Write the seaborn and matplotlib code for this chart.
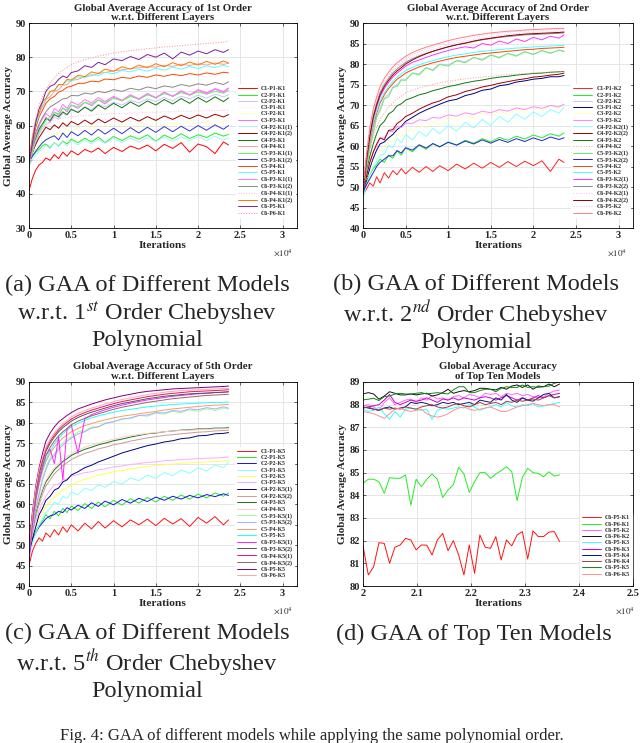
import numpy as np
import seaborn as sns
import matplotlib.pyplot as plt
from matplotlib.ticker import FuncFormatter, MultipleLocator

sns.set_theme(style="ticks")
plt.rcParams["font.family"] = ["Liberation Serif", "DejaVu Serif"]
plt.rcParams["mathtext.fontset"] = "stix"

# shared iteration grid for panels a-c
ITER = [0, 400, 800, 1200, 1600, 2000, 2500, 3000, 3500, 4000, 4500, 5000, 5800, 6600, 7400, 8200,
        9000, 10000, 11000, 12000, 13000, 14000, 15000, 16000, 17000, 18000, 19000, 20000, 21000,
        22000, 23000, 23600]

# (a) 1st order
A_LABELS = ["C1-P1-K1", "C2-P1-K1", "C2-P2-K1", "C3-P1-K1", "C3-P2-K1", "C3-P3-K1", "C4-P2-K1(1)",
            "C4-P2-K1(2)", "C4-P3-K1", "C4-P4-K1", "C5-P3-K1(1)", "C5-P3-K1(2)", "C5-P4-K1", "C5-P5-K1",
            "C6-P3-K1(1)", "C6-P3-K1(2)", "C6-P4-K1(1)", "C6-P4-K1(2)", "C6-P5-K1", "C6-P6-K1"]
A_ACC = [
    [41.0, 44.5, 47.0, 48.5, 49.2, 50.5, 49.8, 51.5, 50.3, 52.2, 51.0, 52.6, 51.4, 53.0, 52.2, 53.4,
     51.8, 53.6, 52.4, 54.0, 53.1, 54.3, 52.6, 54.5, 53.3, 55.0, 52.2, 54.6, 53.8, 51.8, 55.2, 54.3],
    [49.0, 51.0, 52.2, 53.0, 54.1, 54.6, 53.5, 55.0, 54.0, 55.5, 54.6, 56.0, 55.0, 56.3, 55.2, 56.6,
     55.0, 56.8, 55.6, 57.0, 56.0, 57.3, 55.4, 57.2, 56.1, 57.6, 56.2, 57.3, 56.5, 57.8, 56.9, 57.4],
    [48.0, 52.0, 55.0, 57.5, 59.0, 60.5, 61.0, 62.5, 61.8, 63.6, 63.0, 64.5, 64.0, 65.4, 64.6, 66.2,
     65.5, 66.8, 66.0, 67.4, 66.6, 67.8, 67.0, 68.2, 67.2, 68.6, 67.8, 68.9, 68.0, 69.2, 68.4, 69.0],
    [50.0, 53.0, 55.0, 56.5, 57.5, 58.2, 58.8, 59.3, 59.0, 59.8, 59.6, 60.2, 60.0, 60.6, 60.3, 60.9,
     60.6, 61.2, 60.9, 61.4, 61.0, 61.6, 61.2, 61.7, 61.4, 61.9, 61.5, 62.0, 61.7, 62.1, 61.8, 62.0],
    [49.0, 51.5, 53.0, 54.5, 55.8, 56.2, 57.5, 56.8, 58.3, 57.5, 59.0, 58.0, 59.5, 58.4, 59.8, 58.8,
     60.0, 59.0, 60.3, 59.4, 60.5, 59.6, 60.8, 59.8, 61.0, 60.0, 61.2, 60.2, 61.3, 60.4, 61.5, 61.0],
    [48.5, 53.0, 56.0, 58.5, 60.0, 62.5, 61.0, 64.0, 63.0, 65.2, 64.0, 66.0, 65.0, 66.8, 65.8, 67.5,
     66.3, 68.2, 67.2, 68.8, 67.6, 69.3, 68.0, 69.8, 68.5, 70.2, 69.0, 70.5, 69.6, 70.8, 70.0, 71.0],
    [48.0, 50.0, 51.5, 52.5, 53.0, 54.2, 53.2, 55.0, 53.8, 55.3, 54.0, 55.6, 54.3, 55.8, 54.6, 56.0,
     54.8, 56.2, 55.0, 56.3, 55.2, 56.4, 55.3, 56.6, 55.4, 56.7, 55.5, 56.8, 55.6, 56.9, 55.7, 56.4],
    [49.0, 52.0, 54.5, 56.5, 58.0, 59.5, 58.8, 60.2, 59.2, 60.8, 59.8, 61.2, 60.2, 61.6, 60.4, 61.9,
     60.8, 62.2, 61.0, 62.4, 61.3, 62.6, 61.5, 62.8, 61.8, 63.0, 62.0, 63.1, 62.2, 63.3, 62.5, 63.2],
    [49.0, 53.5, 56.5, 59.0, 60.5, 62.0, 61.5, 63.2, 62.5, 64.0, 63.2, 64.8, 63.8, 65.4, 64.2, 66.0,
     64.8, 66.5, 65.2, 66.9, 65.6, 67.2, 66.0, 67.6, 66.3, 67.9, 66.5, 68.2, 66.8, 68.4, 67.0, 68.1],
    [50.0, 56.0, 60.5, 63.5, 65.5, 67.5, 68.5, 70.0, 70.5, 71.8, 72.0, 73.2, 73.5, 74.3, 74.6, 75.3,
     75.5, 76.0, 76.3, 76.7, 76.9, 77.2, 77.1, 77.6, 77.3, 77.9, 77.6, 78.1, 77.7, 78.3, 77.9, 78.2],
    [48.0, 52.0, 55.5, 58.0, 60.0, 61.5, 62.5, 63.8, 63.5, 65.0, 64.5, 66.0, 65.5, 66.8, 66.2, 67.5,
     66.8, 68.0, 67.3, 68.5, 67.8, 68.9, 68.2, 69.3, 68.6, 69.6, 68.9, 69.8, 69.2, 70.0, 69.5, 70.2],
    [49.5, 51.0, 52.5, 53.8, 55.0, 55.8, 56.5, 57.0, 55.8, 57.8, 56.5, 58.2, 57.0, 58.6, 57.2, 58.9,
     57.5, 59.2, 57.6, 59.4, 57.8, 59.5, 58.0, 59.7, 58.2, 59.8, 58.4, 60.0, 58.6, 60.2, 58.9, 60.0],
    [49.0, 55.0, 59.5, 62.5, 64.5, 66.5, 67.8, 68.5, 69.8, 70.3, 71.2, 71.5, 72.3, 72.4, 73.0, 72.8,
     73.6, 73.4, 74.1, 73.8, 74.5, 74.1, 74.8, 74.4, 75.0, 74.6, 75.2, 74.8, 75.4, 75.0, 75.6, 75.4],
    [49.5, 56.0, 60.5, 63.0, 66.3, 67.7, 69.8, 70.2, 71.8, 71.9, 73.1, 73.0, 74.2, 73.9, 75.0, 74.6,
     75.6, 75.2, 76.1, 75.7, 76.5, 75.9, 76.8, 76.2, 77.1, 76.5, 77.3, 76.7, 77.5, 77.0, 77.6, 77.2],
    [48.0, 53.5, 57.0, 60.0, 62.0, 63.5, 62.5, 65.0, 64.0, 66.2, 65.0, 67.0, 66.0, 67.6, 66.6, 68.2,
     67.0, 68.6, 67.4, 69.0, 67.8, 69.4, 68.2, 69.7, 68.6, 70.0, 68.9, 70.3, 69.2, 70.6, 69.6, 70.8],
    [49.0, 54.0, 58.0, 60.5, 62.5, 64.0, 65.5, 66.2, 67.0, 67.8, 68.0, 68.8, 68.7, 69.5, 69.2, 70.0,
     69.6, 70.5, 70.0, 70.9, 70.4, 71.3, 70.8, 71.6, 71.2, 72.0, 71.5, 72.2, 71.8, 72.6, 72.0, 72.8],
    [48.5, 52.5, 55.5, 57.5, 59.0, 60.0, 60.8, 61.5, 61.8, 62.2, 62.3, 62.6, 62.7, 63.0, 63.0, 63.3,
     63.3, 63.5, 63.5, 63.7, 63.7, 63.9, 63.9, 64.0, 64.0, 64.2, 64.2, 64.3, 64.3, 64.5, 64.4, 64.6],
    [49.5, 56.5, 61.5, 63.6, 67.0, 68.0, 70.0, 70.3, 72.0, 72.0, 73.5, 73.3, 74.7, 74.3, 75.7, 75.2,
     76.5, 75.9, 77.2, 76.5, 77.7, 76.9, 78.1, 77.2, 78.4, 77.5, 78.6, 77.7, 78.8, 77.9, 78.9, 78.3],
    [49.0, 55.0, 61.0, 65.0, 67.0, 70.0, 71.5, 72.0, 73.5, 74.5, 74.0, 75.5, 76.0, 77.5, 77.0, 78.5,
     77.8, 79.5, 79.0, 80.2, 79.3, 80.8, 80.0, 81.2, 79.5, 81.5, 80.6, 81.8, 81.0, 82.2, 81.4, 82.2],
    [50.0, 57.0, 62.0, 66.0, 68.5, 70.5, 72.5, 74.0, 75.2, 76.2, 77.0, 77.8, 78.6, 79.3, 79.8, 80.3,
     80.7, 81.2, 81.6, 81.9, 82.2, 82.5, 82.7, 83.0, 83.2, 83.4, 83.6, 83.8, 84.0, 84.2, 84.4, 84.7],
]
A_COLORS = ["#ff0000", "#22ee22", "#c8c8ff", "#f2f2f2", "#ffff55", "#ff66ff", "#aaf0ff", "#990000",
            "#117711", "#ff9999", "#55ff55", "#3333dd", "#ff4400", "#55ffff", "#ff77ff", "#888888",
            "#ffbbdd", "#ff7700", "#7a1fa2", "#ff8c8c"]
A_STYLES = ["-", "-", "-", ":", ":", "-", "-", "-", "-", "-", "-", "-", "-", "-", "-", "-", ":", "-", "-", ":"]

# (b) 2nd order
B_LABELS = [s.replace("K1", "K2") for s in A_LABELS]
B_ACC = [
    [48.0, 49.5, 51.0, 50.2, 52.5, 51.0, 53.5, 52.2, 54.0, 53.0, 54.5, 53.2, 54.8, 53.6, 55.0, 53.8,
     55.2, 54.0, 55.6, 54.4, 55.8, 54.6, 56.0, 54.8, 56.2, 55.0, 56.3, 55.2, 56.4, 53.8, 56.8, 56.0],
    [48.5, 51.0, 53.0, 54.5, 55.5, 56.8, 56.0, 57.8, 57.0, 58.8, 57.8, 59.5, 58.6, 60.2, 59.2, 60.6,
     59.8, 61.0, 60.3, 61.4, 60.7, 61.8, 61.0, 62.1, 61.4, 62.4, 61.7, 62.7, 62.0, 63.0, 62.4, 63.2],
    [49.0, 55.0, 60.0, 63.6, 67.2, 69.2, 71.8, 72.6, 74.3, 75.0, 76.3, 76.3, 77.8, 77.7, 79.1, 78.7,
     80.0, 79.8, 80.9, 80.6, 81.6, 81.2, 82.2, 81.7, 82.6, 82.1, 83.0, 82.4, 83.3, 82.7, 83.4, 83.2],
    [48.0, 51.5, 54.5, 57.0, 59.0, 60.5, 61.0, 62.0, 62.8, 64.0, 64.8, 66.0, 67.0, 68.0, 68.8, 69.5,
     70.2, 71.0, 71.4, 72.3, 72.8, 73.6, 73.9, 74.7, 75.0, 75.6, 75.9, 76.3, 76.5, 76.9, 76.9, 77.2],
    [48.0, 51.8, 53.6, 56.5, 57.0, 59.3, 59.2, 61.4, 60.9, 62.9, 62.2, 64.1, 63.4, 65.2, 64.4, 66.1,
     65.3, 66.9, 66.1, 67.6, 66.7, 68.2, 67.3, 68.7, 67.7, 69.2, 68.2, 69.6, 68.5, 69.9, 68.8, 69.6],
    [48.5, 53.0, 56.0, 58.5, 60.0, 61.8, 62.0, 63.6, 63.5, 64.8, 64.5, 65.6, 65.5, 66.4, 66.2, 67.0,
     66.8, 67.6, 67.3, 68.1, 67.7, 68.5, 68.1, 68.9, 68.5, 69.3, 68.9, 69.6, 69.2, 69.9, 69.5, 70.2],
    [47.0, 50.5, 53.0, 55.0, 56.5, 57.8, 58.0, 60.2, 59.5, 61.8, 60.8, 62.8, 61.5, 63.6, 62.3, 64.3,
     63.0, 65.0, 63.6, 65.8, 64.4, 66.5, 65.0, 67.2, 65.8, 67.8, 66.5, 68.3, 67.2, 68.9, 68.0, 69.5],
    [48.5, 52.5, 56.0, 58.5, 60.5, 62.0, 61.5, 63.8, 64.0, 65.5, 66.2, 67.2, 68.0, 69.0, 69.8, 70.5,
     71.0, 72.0, 72.5, 73.3, 73.8, 74.4, 74.8, 75.3, 75.7, 76.1, 76.4, 76.8, 77.0, 77.3, 77.5, 77.8],
    [49.0, 54.0, 57.5, 60.5, 63.0, 65.0, 66.0, 67.8, 68.5, 69.8, 70.3, 71.2, 71.8, 72.5, 72.9, 73.5,
     73.9, 74.5, 74.9, 75.4, 75.8, 76.1, 76.5, 76.8, 77.0, 77.3, 77.5, 77.7, 77.8, 78.0, 78.1, 78.2],
    [49.0, 55.0, 59.0, 62.0, 64.5, 66.5, 68.0, 69.5, 70.5, 71.5, 72.2, 73.0, 73.6, 74.2, 74.6, 75.0,
     75.4, 75.8, 76.1, 76.4, 76.6, 76.8, 77.0, 77.2, 77.4, 77.5, 77.7, 77.8, 77.9, 78.0, 78.1, 78.2],
    [48.5, 54.5, 59.5, 63.0, 67.0, 68.6, 71.5, 72.0, 74.3, 74.5, 76.1, 76.0, 77.8, 77.3, 79.1, 78.4,
     79.9, 79.5, 80.8, 80.3, 81.6, 80.9, 82.2, 81.5, 82.6, 81.9, 83.0, 82.3, 83.3, 82.6, 83.4, 83.0],
    [49.0, 50.5, 52.0, 53.5, 55.0, 56.0, 56.8, 57.6, 57.6, 58.9, 58.3, 59.6, 59.0, 60.3, 59.5, 60.6,
     59.8, 60.9, 60.2, 61.2, 60.5, 61.5, 60.7, 61.6, 60.9, 61.8, 61.1, 62.0, 61.3, 62.2, 61.6, 62.0],
    [49.0, 56.0, 61.0, 65.0, 68.0, 70.5, 72.5, 74.0, 75.2, 76.3, 77.0, 77.8, 78.6, 79.3, 79.8, 80.3,
     80.7, 81.2, 81.6, 81.9, 82.2, 82.5, 82.7, 82.9, 83.1, 83.3, 83.5, 83.6, 83.8, 83.9, 84.0, 84.1],
    [49.5, 56.5, 61.5, 65.5, 68.5, 71.0, 73.0, 74.5, 75.8, 76.8, 77.6, 78.4, 79.2, 79.8, 80.4, 80.8,
     81.3, 81.8, 82.2, 82.5, 82.8, 83.1, 83.3, 83.5, 83.7, 83.9, 84.0, 84.2, 84.3, 84.4, 84.5, 84.6],
    [48.5, 56.0, 62.0, 66.5, 69.5, 72.0, 74.0, 75.5, 76.8, 77.8, 78.6, 79.5, 80.4, 81.0, 81.6, 82.2,
     82.7, 83.3, 83.8, 84.2, 83.9, 85.0, 84.6, 85.6, 85.0, 86.1, 85.5, 86.5, 85.9, 86.8, 86.3, 87.1],
    [49.0, 57.0, 63.0, 67.5, 70.5, 73.0, 75.0, 76.5, 77.8, 78.8, 79.6, 80.4, 81.3, 82.0, 82.6, 83.1,
     83.6, 84.2, 84.7, 85.1, 85.5, 85.9, 86.2, 86.5, 86.7, 86.9, 87.1, 87.2, 87.3, 87.4, 87.5, 87.6],
    [49.5, 57.5, 63.5, 68.0, 71.0, 73.5, 75.5, 77.0, 78.3, 79.3, 80.1, 80.9, 81.8, 82.5, 83.1, 83.6,
     84.1, 84.7, 85.2, 85.6, 86.0, 86.4, 86.7, 87.0, 87.2, 87.4, 87.6, 87.7, 87.8, 87.9, 88.0, 88.1],
    [48.5, 56.5, 62.5, 67.0, 70.0, 72.5, 74.5, 76.0, 77.3, 78.3, 79.1, 80.0, 81.0, 81.8, 82.5, 83.1,
     83.6, 84.2, 84.7, 85.1, 85.6, 86.0, 86.3, 86.6, 86.9, 87.1, 87.3, 87.4, 87.5, 87.6, 87.7, 87.8],
    [49.0, 57.5, 64.0, 68.5, 71.5, 74.0, 76.0, 77.5, 78.8, 79.8, 80.6, 81.4, 82.3, 83.0, 83.6, 84.1,
     84.6, 85.2, 85.7, 86.1, 86.5, 86.9, 87.2, 87.5, 87.7, 87.9, 88.0, 88.1, 88.2, 88.3, 88.4, 88.4],
    [50.0, 58.0, 64.5, 69.0, 72.0, 74.5, 76.5, 78.0, 79.3, 80.3, 81.1, 81.9, 82.8, 83.5, 84.1, 84.6,
     85.1, 85.7, 86.2, 86.6, 87.0, 87.3, 87.6, 87.8, 88.0, 88.1, 88.3, 88.4, 88.5, 88.6, 88.7, 88.7],
]
B_COLORS = ["#ff2020", "#22ee22", "#c8c8ff", "#000080", "#ffff55", "#ff88ff", "#88ffff", "#990000",
            "#117711", "#ff9999", "#66ee66", "#2222dd", "#ff4400", "#44ffff", "#ff33ff", "#888888",
            "#ffbbdd", "#8b0000", "#e0c8e8", "#ff8080"]
B_STYLES = ["-", "-", "-", "-", ":", "-", "-", "-", "-", ":", "-", "-", "-", "-", "-", "-", ":", "-", ":", "-"]

# (c) 5th order
C_LABELS = [s.replace("K1", "K5") for s in A_LABELS]
C_ACC = [
    [45.0, 48.5, 50.5, 51.8, 51.0, 53.0, 52.0, 53.8, 52.5, 54.5, 53.2, 55.0, 53.5, 55.4, 54.0, 55.8,
     54.2, 56.0, 54.5, 56.2, 55.0, 56.4, 54.8, 56.6, 55.2, 56.5, 54.6, 56.8, 55.4, 57.0, 55.0, 56.2],
    [48.0, 51.0, 53.5, 55.0, 56.0, 57.5, 56.5, 58.3, 57.2, 59.0, 58.0, 59.6, 58.5, 60.2, 59.0, 60.6,
     59.4, 61.0, 59.8, 61.4, 60.3, 61.7, 60.6, 62.0, 61.0, 62.3, 61.3, 62.5, 61.6, 62.8, 62.0, 62.8],
    [49.0, 51.5, 53.0, 54.5, 55.5, 56.5, 57.2, 57.5, 58.3, 58.0, 59.2, 58.6, 59.8, 59.0, 60.4, 59.5,
     60.8, 59.9, 61.2, 60.3, 61.5, 60.7, 61.8, 61.0, 62.0, 61.3, 62.2, 61.6, 62.4, 61.9, 62.6, 62.2],
    [47.0, 50.5, 53.0, 55.0, 56.5, 58.0, 59.0, 60.5, 60.0, 62.0, 61.5, 63.0, 62.4, 64.0, 63.4, 64.8,
     64.2, 65.6, 65.0, 66.5, 65.8, 67.2, 66.4, 67.8, 67.0, 68.4, 67.6, 69.0, 68.2, 69.6, 69.0, 70.4],
    [48.0, 52.0, 54.5, 56.5, 58.0, 59.5, 60.5, 61.8, 62.5, 63.5, 64.0, 64.8, 65.5, 66.2, 66.6, 67.2,
     67.5, 68.0, 68.3, 68.7, 69.0, 69.3, 69.5, 69.7, 69.9, 70.1, 70.2, 70.3, 70.4, 70.5, 70.6, 70.7],
    [48.5, 53.0, 56.0, 58.5, 60.5, 62.0, 63.5, 64.8, 65.0, 66.0, 66.2, 67.0, 67.3, 67.8, 68.0, 68.5,
     68.7, 69.2, 69.4, 69.8, 70.0, 70.3, 70.4, 70.7, 70.8, 71.0, 71.1, 71.2, 71.3, 71.4, 71.5, 71.6],
    [48.0, 51.5, 54.5, 57.5, 59.0, 61.0, 62.0, 63.5, 64.0, 65.5, 66.0, 67.2, 68.0, 69.0, 69.6, 70.4,
     71.0, 71.8, 72.6, 73.2, 73.8, 74.4, 74.8, 75.3, 75.6, 76.1, 76.3, 76.8, 76.9, 77.3, 77.4, 77.6],
    [48.5, 53.0, 57.0, 60.0, 62.5, 64.5, 66.0, 67.5, 68.5, 69.5, 70.2, 71.0, 71.8, 72.5, 73.0, 73.6,
     74.0, 74.6, 75.0, 75.5, 75.9, 76.3, 76.6, 76.9, 77.1, 77.3, 77.5, 77.7, 77.8, 78.0, 78.1, 78.2],
    [49.0, 54.0, 58.0, 61.0, 63.5, 65.5, 67.0, 68.5, 69.5, 70.5, 71.2, 72.0, 72.8, 73.5, 74.0, 74.6,
     75.0, 75.6, 76.0, 76.5, 76.9, 77.3, 77.5, 77.8, 78.0, 78.2, 78.3, 78.5, 78.5, 78.7, 78.7, 78.8],
    [49.0, 54.5, 58.5, 61.5, 64.0, 66.0, 67.5, 69.0, 70.0, 71.0, 71.7, 72.5, 73.3, 74.0, 74.5, 75.0,
     75.5, 76.0, 76.4, 76.8, 77.1, 77.4, 77.6, 77.8, 78.0, 78.1, 78.2, 78.3, 78.4, 78.5, 78.5, 78.6],
    [48.5, 54.5, 59.5, 63.0, 66.5, 69.0, 71.5, 72.5, 74.0, 75.0, 76.0, 76.5, 77.8, 78.0, 79.0, 79.0,
     80.0, 80.2, 81.0, 81.0, 81.8, 81.6, 82.4, 82.1, 82.8, 82.5, 83.2, 82.8, 83.4, 83.0, 83.6, 83.4],
    [48.0, 54.0, 59.0, 62.5, 66.0, 68.5, 71.0, 72.0, 73.5, 74.5, 75.5, 76.2, 77.3, 77.8, 78.7, 79.0,
     79.8, 80.3, 80.9, 81.2, 81.8, 81.9, 82.5, 82.4, 83.0, 82.8, 83.4, 83.2, 83.7, 83.4, 83.9, 83.6],
    [49.0, 56.0, 61.0, 65.0, 68.0, 70.5, 72.5, 74.0, 75.2, 76.3, 77.0, 77.8, 78.6, 79.3, 79.8, 80.3,
     80.7, 81.2, 81.6, 81.9, 82.2, 82.5, 82.8, 83.1, 83.4, 83.6, 83.8, 84.0, 84.2, 84.3, 84.4, 84.5],
    [49.5, 56.5, 61.5, 65.5, 68.5, 71.0, 73.0, 74.8, 76.2, 77.3, 78.2, 79.0, 79.9, 80.6, 81.2, 81.7,
     82.1, 82.6, 83.0, 83.3, 83.6, 83.9, 84.1, 84.3, 84.5, 84.6, 84.7, 84.8, 84.9, 85.0, 85.0, 85.1],
    [45.5, 55.0, 61.0, 65.5, 69.0, 72.0, 73.5, 70.0, 76.5, 66.0, 78.5, 79.5, 72.5, 81.0, 82.0, 82.6,
     83.2, 83.8, 84.3, 84.8, 85.2, 85.6, 85.9, 86.2, 86.5, 86.7, 86.9, 87.1, 87.2, 87.4, 87.5, 87.6],
    [49.0, 57.0, 63.0, 67.5, 70.5, 73.0, 75.0, 76.5, 77.8, 78.8, 79.6, 80.4, 81.3, 82.0, 82.6, 83.1,
     83.6, 84.2, 84.7, 85.1, 85.5, 85.9, 86.2, 86.5, 86.7, 86.9, 87.1, 87.2, 87.3, 87.4, 87.5, 87.6],
    [49.5, 57.5, 63.5, 68.0, 71.0, 73.5, 75.5, 77.0, 78.3, 79.3, 80.1, 80.9, 81.8, 82.5, 83.1, 83.6,
     84.1, 84.7, 85.2, 85.6, 86.0, 86.4, 86.7, 87.0, 87.2, 87.4, 87.6, 87.7, 87.8, 87.9, 88.0, 88.1],
    [48.5, 56.0, 62.0, 66.5, 69.5, 72.0, 74.0, 75.5, 76.8, 77.8, 78.6, 79.5, 80.4, 81.1, 81.7, 82.2,
     82.7, 83.3, 83.8, 84.2, 84.6, 85.0, 85.3, 85.6, 85.9, 86.1, 86.3, 86.5, 86.7, 86.8, 86.9, 87.0],
    [50.0, 58.0, 64.5, 69.0, 72.5, 75.5, 77.5, 79.0, 80.2, 81.0, 81.8, 82.5, 83.4, 84.0, 84.6, 85.1,
     85.6, 86.1, 86.6, 87.0, 87.4, 87.7, 87.9, 88.1, 88.3, 88.4, 88.5, 88.6, 88.7, 88.8, 88.9, 89.0],
    [49.0, 57.5, 64.0, 68.5, 71.5, 74.0, 76.0, 77.5, 78.8, 79.8, 80.6, 81.4, 82.3, 83.0, 83.6, 84.1,
     84.6, 85.2, 85.7, 86.1, 86.5, 86.9, 87.2, 87.5, 87.7, 87.9, 88.0, 88.1, 88.2, 88.3, 88.4, 88.4],
]
C_COLORS = ["#ff1010", "#22ee22", "#1010ee", "#88ffff", "#ffff55", "#ffaaff", "#000080", "#cc9999",
            "#117711", "#ffcccc", "#99ff99", "#aaaaff", "#ff9966", "#22ffff", "#ff22ff", "#555555",
            "#ee1166", "#996666", "#800080", "#ffaaaa"]
C_STYLES = ["-"] * 20

# (d) top ten models, last part of training
ITER_D = np.linspace(20000, 23640, 38)
D_LABELS = ["C6-P5-K1", "C6-P6-K1", "C6-P5-K2", "C6-P6-K2", "C6-P5-K3", "C6-P6-K3", "C6-P5-K4",
            "C6-P6-K4", "C6-P5-K5", "C6-P6-K5"]
D_ACC = [
    [81.77, 80.49, 80.85, 81.91, 81.88, 81.0, 81.71, 81.81, 82.10, 82.03, 81.59, 81.81, 81.80, 81.37,
     82.03, 82.32, 81.56, 82.0, 81.37, 80.49, 81.81, 80.56, 82.25, 81.71, 81.66, 82.18, 81.15, 82.03,
     81.77, 82.25, 82.40, 81.19, 82.43, 82.18, 82.18, 82.38, 82.40, 81.96],
    [84.53, 84.71, 84.71, 84.60, 84.09, 84.78, 84.75, 84.75, 84.90, 83.57, 84.71, 84.38, 84.71, 84.94,
     84.71, 83.90, 84.24, 84.46, 85.24, 84.94, 84.13, 84.60, 85.0, 85.0, 84.75, 84.94, 85.09, 85.26,
     85.04, 83.77, 84.79, 85.19, 85.0, 84.97, 84.82, 85.04, 84.85, 84.90],
    [87.95, 88.0, 87.9, 87.75, 88.1, 88.3, 88.0, 88.1, 88.2, 88.25, 88.1, 88.3, 88.2, 88.4, 88.25,
     88.3, 88.2, 88.35, 88.4, 88.3, 88.45, 88.4, 88.3, 88.5, 88.45, 88.5, 88.35, 88.5, 88.45, 88.5,
     88.4, 88.45, 88.35, 88.3, 88.35, 88.5, 88.6, 88.65],
    [88.47, 88.53, 88.47, 88.24, 88.38, 88.57, 88.50, 88.43, 88.43, 88.47, 88.43, 88.47, 88.50, 88.38,
     88.43, 88.53, 88.68, 88.50, 88.57, 88.62, 88.57, 88.62, 88.72, 88.72, 88.68, 88.65, 88.76, 88.68,
     88.82, 88.87, 88.76, 88.87, 88.68, 88.82, 88.79, 88.91, 88.79, 88.91],
    [87.8, 87.7, 87.75, 87.9, 87.6, 87.35, 87.7, 87.45, 87.8, 87.85, 87.8, 87.75, 87.8, 87.35, 87.75,
     87.85, 87.8, 87.85, 87.9, 87.85, 88.0, 87.9, 87.75, 87.85, 87.9, 88.0, 87.9, 88.1, 87.95, 87.9,
     88.0, 87.95, 88.05, 87.9, 87.95, 88.0, 88.05, 88.1],
    [87.85, 87.9, 87.95, 88.0, 88.2, 88.45, 88.1, 88.0, 88.1, 88.2, 88.15, 88.2, 88.3, 88.2, 88.1,
     88.25, 88.2, 88.3, 88.2, 88.3, 88.25, 88.2, 88.3, 88.35, 88.3, 88.2, 88.3, 88.4, 88.3, 88.2,
     88.3, 88.2, 88.3, 88.4, 88.3, 88.4, 88.45, 88.5],
    [87.9, 87.85, 87.8, 87.75, 87.85, 87.9, 87.8, 87.85, 87.9, 88.1, 88.05, 88.1, 88.05, 87.95, 88.0,
     88.1, 88.05, 88.1, 88.0, 88.05, 88.1, 88.0, 88.2, 88.15, 88.1, 88.3, 88.2, 88.45, 88.2, 88.1,
     88.3, 88.2, 88.15, 88.3, 88.45, 88.5, 88.3, 88.35],
    [87.85, 87.9, 87.8, 87.75, 87.85, 87.8, 87.85, 87.8, 87.9, 87.85, 87.8, 87.9, 87.95, 88.0, 87.9,
     87.85, 87.9, 88.0, 88.05, 87.95, 87.9, 88.0, 88.1, 88.0, 88.05, 88.1, 88.0, 88.15, 88.1, 88.2,
     88.15, 88.2, 88.25, 88.2, 88.3, 88.4, 88.3, 88.35],
    [88.21, 88.24, 88.28, 88.18, 88.35, 88.38, 88.47, 88.50, 88.47, 88.47, 88.50, 88.53, 88.47, 88.50,
     88.53, 88.50, 88.47, 88.65, 88.79, 88.79, 88.53, 88.53, 88.62, 88.68, 88.68, 88.57, 88.72, 88.79,
     88.76, 88.76, 88.87, 88.76, 88.79, 88.76, 88.79, 88.82, 88.94, 89.01],
    [87.7, 87.65, 87.6, 87.5, 87.4, 87.6, 87.8, 87.85, 87.75, 87.7, 87.75, 87.8, 87.6, 87.5, 87.45,
     87.5, 87.6, 87.75, 87.85, 87.9, 87.8, 87.75, 87.8, 87.85, 87.9, 87.8, 87.7, 87.7, 87.8, 87.9,
     87.95, 88.0, 88.05, 88.0, 87.95, 88.0, 88.0, 87.9],
]
D_COLORS = ["#ff1010", "#22ee22", "#ff66ff", "#111111", "#33ffff", "#cc00cc", "#101080", "#a04040",
            "#118811", "#ff9090"]
D_STYLES = ["-"] * 10


def draw_panel(ax, x, series, labels, colors, styles, legend_anchor):
    for vals, lab, col, ls in zip(series, labels, colors, styles):
        sns.lineplot(x=x, y=vals, color=col, linestyle=ls, linewidth=0.7, label=lab, ax=ax)
    handles, labs = ax.get_legend_handles_labels()
    ax.legend(handles, labs, loc="center left", bbox_to_anchor=legend_anchor,
              prop={"size": 4.2, "weight": "bold"},
              labelspacing=0.2, handlelength=3.3, handletextpad=0.7, borderpad=0.3, borderaxespad=0,
              frameon=True, fancybox=False, edgecolor="white", framealpha=1)
    ax.grid(True, color="#e2e2e2", linewidth=0.6)
    ax.tick_params(direction="in", length=2.5, width=0.5, top=True, right=True, labelsize=7.5, pad=2)
    for sp in ax.spines.values():
        sp.set_color("black")
        sp.set_linewidth(0.6)
    ax.set_xlabel("Iterations", fontsize=8.2, fontweight="bold", labelpad=1)
    ax.set_ylabel("Global Average Accuracy", fontsize=8, fontweight="bold", labelpad=2)
    ax.xaxis.set_major_formatter(FuncFormatter(lambda v, p: f"{v / 1e4:g}"))


fig = plt.figure(figsize=(6.4, 7.43), dpi=100)
ax_a = fig.add_axes([0.0453, 0.6931, 0.4188, 0.2759])
ax_b = fig.add_axes([0.5672, 0.6931, 0.4219, 0.2759])
ax_c = fig.add_axes([0.0453, 0.2113, 0.4188, 0.2746])
ax_d = fig.add_axes([0.5672, 0.2113, 0.4219, 0.2746])

draw_panel(ax_a, ITER, A_ACC, A_LABELS, A_COLORS, A_STYLES, (0.772, 0.376))
draw_panel(ax_b, ITER, B_ACC, B_LABELS, B_COLORS, B_STYLES, (0.772, 0.376))
draw_panel(ax_c, ITER, C_ACC, C_LABELS, C_COLORS, C_STYLES, (0.770, 0.355))
draw_panel(ax_d, ITER_D, D_ACC, D_LABELS, D_COLORS, D_STYLES, (0.803, 0.196))

for ax in (ax_a, ax_b, ax_c):
    ax.set_xlim(0, 31700)
    ax.xaxis.set_major_locator(MultipleLocator(5000))
ax_a.set_ylim(30, 90)
ax_a.yaxis.set_major_locator(MultipleLocator(10))
for ax in (ax_b, ax_c):
    ax.set_ylim(40, 90)
    ax.yaxis.set_major_locator(MultipleLocator(5))
ax_d.set_xlim(20000, 25000)
ax_d.xaxis.set_major_locator(MultipleLocator(1000))
ax_d.set_ylim(80, 89)
ax_d.yaxis.set_major_locator(MultipleLocator(1))

title_kw = dict(fontsize=7.8, fontweight="bold", pad=2, linespacing=1.1)
ax_a.set_title("Global Average Accuracy of 1st Order\nw.r.t. Different Layers", **title_kw)
ax_b.set_title("Global Average Accuracy of 2nd Order\nw.r.t. Different Layers", **title_kw)
ax_c.set_title("Global Average Accuracy of 5th Order\nw.r.t. Different Layers", **title_kw)
ax_d.set_title("Global Average Accuracy\nof Top Ten Models", **title_kw)

for ax, xpos in ((ax_a, 0.948), (ax_b, 0.941), (ax_c, 0.948), (ax_d, 0.97)):
    ax.text(xpos, -0.12, r"$\times10^4$", transform=ax.transAxes, fontsize=6.5,
            ha="center", va="center")
    for lbl in ax.get_xticklabels() + ax.get_yticklabels():
        lbl.set_fontweight("bold")

cap_kw = dict(ha="center", va="center", fontsize=17.5, linespacing=1.16)
fig.text(0.23, 0.5787, "(a) GAA of Different Models\nw.r.t. 1$^{st}$ Order Chebyshev\nPolynomial", **cap_kw)
fig.text(0.744, 0.5787, "(b) GAA of Different Models\nw.r.t. 2$^{nd}$ Order Chebyshev\nPolynomial", **cap_kw)
fig.text(0.23, 0.109, "(c) GAA of Different Models\nw.r.t. 5$^{th}$ Order Chebyshev\nPolynomial", **cap_kw)
fig.text(0.741, 0.1467, "(d) GAA of Top Ten Models", **cap_kw)
fig.text(0.4875, 0.0095, "Fig. 4: GAA of different models while applying the same polynomial order.",
         ha="center", va="center", fontsize=12)

fig.savefig("out.png", dpi=100)
